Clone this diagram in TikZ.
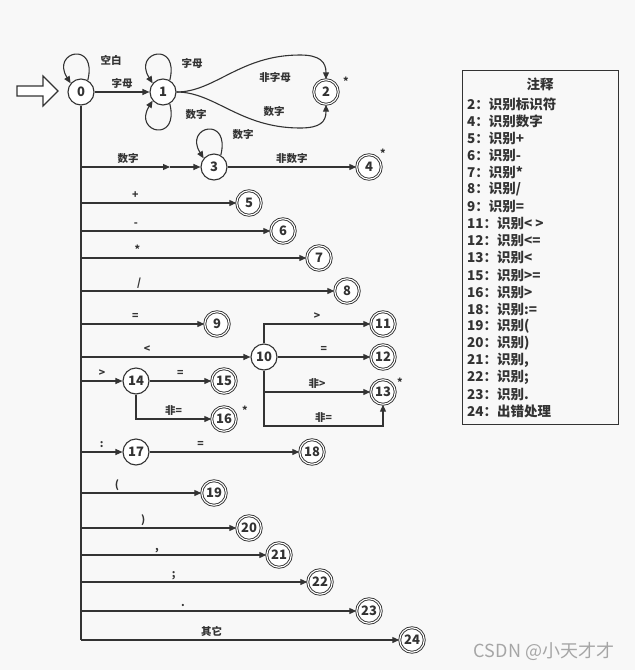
\documentclass[tikz,border=0pt]{standalone}
\usepackage{fontspec}
\setmainfont{Noto Sans CJK SC}
\usetikzlibrary{arrows.meta}
\definecolor{ink}{HTML}{333333}
\definecolor{paper}{HTML}{F8F8F8}
\tikzset{
    state/.style={circle, draw=ink, fill=white, line width=1.1pt, minimum size=26pt, inner sep=0pt, text=ink, font=\fontsize{13}{13}\selectfont\bfseries},
    accept/.style={state, double=white, double distance=1.1pt, line width=0.9pt, minimum size=24.5pt},
    line/.style={draw=ink, line width=1.1pt},
    arr/.style={line, -{Triangle[length=7pt,width=6pt]}},
    lbl/.style={text=ink, inner sep=2pt, text height=8pt, text depth=2pt, font=\fontsize{10.5}{10.5}\selectfont\bfseries},
    note/.style={text=ink, inner sep=0pt, font=\fontsize{13.5}{13.5}\selectfont\bfseries}
}
\begin{document}
\begin{tikzpicture}[x=1pt, y=1pt]
    \fill[paper] (0,0) rectangle (635,-670);
    \useasboundingbox (0,0) rectangle (635,-670);
    % start arrow
    \draw[line, fill=white] (17,-86) -- (43,-86) -- (43,-76) -- (58,-91) -- (43,-106) -- (43,-96) -- (17,-96) -- cycle;
    % states
    \node[state] (n0) at (81,-92) {0};
    \node[state] (n1) at (163,-92) {1};
    \node[accept] (n2) at (326,-92) {2};
    \node[state] (n3) at (214,-167) {3};
    \node[accept] (n4) at (369,-167) {4};
    \node[accept] (n5) at (249,-203) {5};
    \node[accept] (n6) at (283,-231) {6};
    \node[accept] (n7) at (319,-258) {7};
    \node[accept] (n8) at (347,-291) {8};
    \node[accept] (n9) at (217,-324) {9};
    \node[state] (n10) at (264,-357) {10};
    \node[accept] (n11) at (383,-324) {11};
    \node[accept] (n12) at (383,-357) {12};
    \node[accept] (n13) at (383,-392) {13};
    \node[state] (n14) at (136,-381) {14};
    \node[accept] (n15) at (224,-381) {15};
    \node[accept] (n16) at (224,-419) {16};
    \node[state] (n17) at (136,-452) {17};
    \node[accept] (n18) at (312,-452) {18};
    \node[accept] (n19) at (214,-493) {19};
    \node[accept] (n20) at (249,-528) {20};
    \node[accept] (n21) at (279,-555) {21};
    \node[accept] (n22) at (320,-582) {22};
    \node[accept] (n23) at (369,-611) {23};
    \node[accept] (n24) at (412,-640) {24};
    % stars
    \node[lbl] (s2) at (346,-82) {*};
    \node[lbl] (s4) at (383,-154) {*};
    \node[lbl] (s13) at (400,-383) {*};
    \node[lbl] (s16) at (245,-411) {*};
    % loops
    \draw[arr] (n0.60) .. controls +(10,40) and +(-20,32) .. (n0.140);
    \node[lbl] (l00) at (111,-61) {空白};
    \draw[arr] (n1.60) .. controls +(10,40) and +(-20,32) .. (n1.140);
    \node[lbl] (l11a) at (192,-64) {字母};
    \draw[arr] (n1.-60) .. controls +(10,-40) and +(-20,-32) .. (n1.-140);
    \node[lbl] (l11b) at (196,-115) {数字};
    \draw[arr] (n3.60) .. controls +(10,40) and +(-20,32) .. (n3.140);
    \node[lbl] (l33) at (243,-135) {数字};
    % 0 -> 1 -> 2
    \draw[arr] (n0) -- (n1) node[lbl, midway, above] {字母};
    \draw[arr] (n1.east) .. controls (215,-92) and (240,-55) .. (300,-55) .. controls (320,-55) and (326,-62) .. (n2.north);
    \node[lbl] (l12a) at (275,-78) {非字母};
    \draw[arr] (n1.east) .. controls (215,-92) and (240,-128) .. (300,-128) .. controls (320,-128) and (326,-122) .. (n2.south);
    \node[lbl] (l12b) at (274,-112) {数字};
    % trunk
    \draw[line] (n0) -- (n0 |- n24);
    \coordinate (m3) at (170,-167);
    \draw[arr] (n0 |- n3) -- (m3) node[lbl, pos=.53, above] {数字};
    \draw[arr] (m3) -- (n3);
    \draw[arr] (n3) -- (n4) node[lbl, midway, above] {非数字};
    \draw[arr] (n0 |- n5) -- (n5) node[lbl, pos=.35, above] {+};
    \draw[arr] (n0 |- n6) -- (n6) node[lbl, pos=.29, above] {-};
    \draw[arr] (n0 |- n7) -- (n7) node[lbl, pos=.25, above] {*};
    \draw[arr] (n0 |- n8) -- (n8) node[lbl, pos=.23, above] {/};
    \draw[arr] (n0 |- n9) -- (n9) node[lbl, pos=.44, above] {=};
    \draw[arr] (n0 |- n10) -- (n10) node[lbl, pos=.39, above] {<};
    \draw[arr] (n0 |- n14) -- (n14) node[lbl, pos=.51, above] {>};
    \draw[arr] (n0 |- n17) -- (n17) node[lbl, pos=.5, above] {:};
    \draw[arr] (n0 |- n19) -- (n19) node[lbl, pos=.30, above] {(};
    \draw[arr] (n0 |- n20) -- (n20) node[lbl, pos=.40, above] {)};
    \draw[arr] (n0 |- n21) -- (n21) node[lbl, pos=.41, above] {,};
    \draw[arr] (n0 |- n22) -- (n22) node[lbl, pos=.41, above] {;};
    \draw[arr] (n0 |- n23) -- (n23) node[lbl, pos=.37, above] {.};
    \draw[arr] (n0 |- n24) -- (n24) node[lbl, pos=.41, above] {其它};
    % relational operators
    \draw[arr] (n10.north) |- (n11) node[lbl, pos=.75, above] {>};
    \draw[arr] (n10) -- (n12) node[lbl, midway, above] {=};
    \draw[arr] (n10.south) |- (n13) node[lbl, pos=.75, above] {非>};
    \coordinate (c13) at (383,-426);
    \draw[arr] (n10.south) |- (c13) node[lbl, pos=.75, above] {非=} -- (n13.south);
    \draw[arr] (n14) -- (n15) node[lbl, midway, above] {=};
    \draw[arr] (n14.south) |- (n16) node[lbl, pos=.75, above] {非=};
    \draw[arr] (n17) -- (n18) node[lbl, pos=.34, above] {=};
    % notes
    \node[draw=ink, line width=1pt, minimum width=156pt, minimum height=354pt, inner sep=0pt] (notebox) at (540,-247) {};
    \node[note] (notetitle) at (540,-84) {注释};
    \foreach \t [count=\k from 0] in {2：识别标识符, 4：识别数字, 5：识别+, 6：识别-, 7：识别*, 8：识别/, 9：识别=, 11：识别< >, 12：识别<=, 13：识别<, 15：识别>=, 16：识别>, 18：识别:=, 19：识别(, 20：识别), 21：识别{,}, 22：识别;, 23：识别., 24：出错处理}
        \node[note, anchor=west] (note\k) at (467,-104-17.1*\k) {\t};
    \node[text=gray!70, inner sep=0pt, font=\fontsize{18}{18}\selectfont] (mark) at (544,-651) {CSDN @小天才才};
\end{tikzpicture}
\end{document}
